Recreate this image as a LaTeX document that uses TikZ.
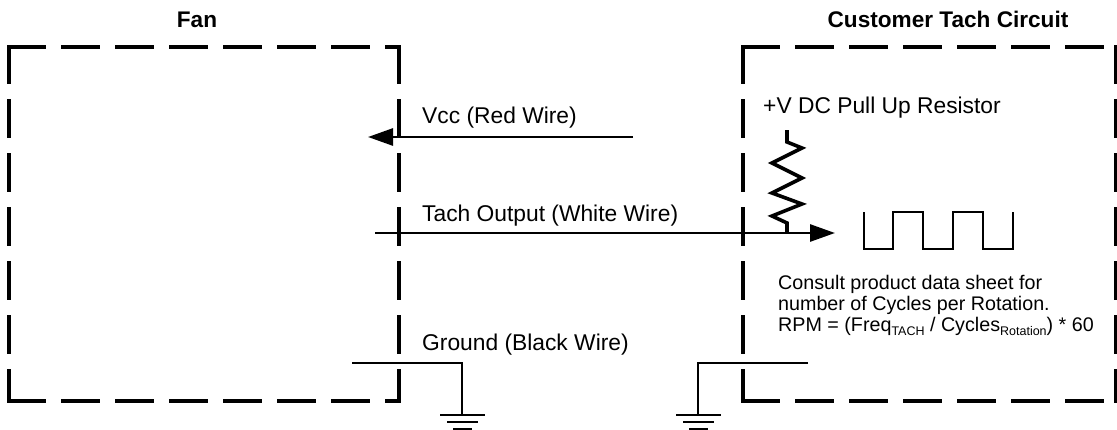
\documentclass[tikz,border=0pt]{standalone}
\usepackage{fontspec}
\setmainfont{Liberation Sans}
\usetikzlibrary{arrows.meta}
\newcommand\mysubs[1]{\raisebox{-4.5pt}{\fontsize{12.5}{12.5}\selectfont #1}}
\begin{document}
\begin{tikzpicture}[x=1pt,y=-1pt,
  boxedge/.style={line width=4.6, dash pattern=on 34.5 off 19.5, line cap=rect},
  wire/.style={line width=2.8},
  gnd/.style={line width=2},
  lbl/.style={inner sep=0, anchor=base west, font=\fontsize{22.8}{27}\selectfont},
  note/.style={inner sep=0, anchor=base west, font=\fontsize{19.7}{23}\selectfont},
  ttl/.style={inner sep=0, anchor=base, font=\fontsize{22.6}{26}\selectfont\bfseries},
  arr/.style={-{Triangle[length=25,width=17]}}]
\useasboundingbox (0,0) rectangle (1117,429);
% boxes
\coordinate (fTL) at (9,47);   \coordinate (fTR) at (399,47);
\coordinate (fBL) at (9,401);  \coordinate (fBR) at (399,401);
\coordinate (cTL) at (743,47); \coordinate (cTR) at (1116,47);
\coordinate (cBL) at (743,401);\coordinate (cBR) at (1116,401);
\draw[boxedge] (fTL) -- (fTR);
\draw[boxedge] (fTR) -- (fBR);
\draw[boxedge] (fTL) -- (fBL);
\draw[boxedge] (fBL) -- (fBR);
\draw[boxedge] (cTL) -- (cTR);
\draw[boxedge] (cTR) -- (cBR);
\draw[boxedge] (cTL) -- (cBL);
\draw[boxedge] (cBL) -- (cBR);
% titles
\node[ttl] (tfan) at (197,27) {Fan};
\node[ttl] (tcust) at (948,27) {Customer Tach Circuit};
% Vcc wire
\coordinate (vccS) at (633,137); \coordinate (vccE) at (368,137);
\draw[wire,arr] (vccS) -- (vccE);
\node[lbl] (lvcc) at (422,123) {Vcc (Red Wire)};
% Tach wire
\coordinate (tS) at (375,233); \coordinate (tE) at (835,233);
\draw[wire,arr] (tS) -- (tE);
\node[lbl] (ltach) at (422,221) {Tach Output (White Wire)};
% resistor
\node[lbl] (lres) at (763,113) {+V DC Pull Up Resistor};
\coordinate (rTop) at (787,130); \coordinate (rBot) at (787,233);
\draw[line width=3.6, line join=miter] (rTop) -- (787,142) -- (802,148) -- (772,163) -- (802,178) -- (772,193) -- (802,204) -- (772,216) -- (787,223) -- (rBot);
% square wave
\draw[line width=2.2] (864,212) -- (864,249) -- (893,249) -- (893,212) -- (923,212) -- (923,249) -- (953,249) -- (953,212) -- (983,212) -- (983,249) -- (1013,249) -- (1013,212);
% note
\node[note] (n1) at (778,289) {Consult product data sheet for};
\node[note] (n2) at (778,310) {number of Cycles per Rotation.};
\node[note] (n3) at (778,331) {RPM = (Freq\mysubs{TACH} / Cycles\mysubs{Rotation}) * 60};
% ground wire
\node[lbl] (lgnd) at (422,350) {Ground (Black Wire)};
\coordinate (gL1) at (352,363); \coordinate (gL2) at (462,363); \coordinate (gL3) at (462,415);
\draw[gnd] (gL1) -- (gL2) -- (gL3);
\draw[gnd] (440,415) -- (485,415) (447,422) -- (478,422) (453,428.5) -- (472,428.5);
\coordinate (gR1) at (808,363); \coordinate (gR2) at (698,363); \coordinate (gR3) at (698,415);
\draw[gnd] (gR1) -- (gR2) -- (gR3);
\draw[gnd] (676,415) -- (721,415) (683,422) -- (714,422) (689,428.5) -- (708,428.5);
\end{tikzpicture}
\end{document}
